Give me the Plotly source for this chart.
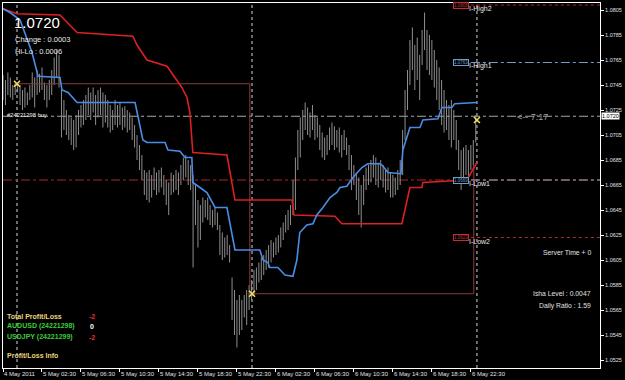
import plotly.graph_objects as go

# ---------------- data ----------------
# 15-minute bars, index 0 = 4 May 22:30
bar_high = [
    1.0753, 1.0749, 1.0755, 1.0751, 1.0745, 1.0747, 1.0746, 1.0745, 1.0741, 1.0743, 1.0739, 1.0745, 1.0755, 1.0751, 1.0757, 1.0754,
    1.0759, 1.0747, 1.0745, 1.0749, 1.0757, 1.0767, 1.0773, 1.0769, 1.0741, 1.0733, 1.0725, 1.0721, 1.0719, 1.0717, 1.0721, 1.0725,
    1.0729, 1.0733, 1.0737, 1.0743, 1.0739, 1.0743, 1.0737, 1.0741, 1.0743, 1.0739, 1.0737, 1.0733, 1.0729, 1.0725, 1.0733, 1.0729,
    1.0731, 1.0727, 1.0728, 1.0725, 1.0723, 1.0719, 1.0713, 1.0705, 1.0697, 1.0689, 1.0677, 1.0675, 1.0677, 1.0673, 1.0679, 1.0675,
    1.0677, 1.0679, 1.0673, 1.0669, 1.0667, 1.0675, 1.0673, 1.0677, 1.0675, 1.0681, 1.0687, 1.0689, 1.0685, 1.0681, 1.0673, 1.0665,
    1.0653, 1.0649, 1.0655, 1.0653, 1.0655, 1.0649, 1.0645, 1.0647, 1.0643, 1.0633, 1.0627, 1.0623, 1.0625, 1.0617, 1.0591, 1.0581,
    1.0573, 1.0577, 1.0573, 1.0577, 1.0581, 1.0585, 1.0589, 1.0597, 1.0599, 1.0603, 1.0607, 1.0609, 1.0613, 1.0617, 1.0621, 1.0619,
    1.0623, 1.0625, 1.0631, 1.0635, 1.0641, 1.0645, 1.0649, 1.0669, 1.0687, 1.0709, 1.0719, 1.0725, 1.0731, 1.0727, 1.0723, 1.0729,
    1.0721, 1.0719, 1.0713, 1.0707, 1.0703, 1.0705, 1.0711, 1.0715, 1.0712, 1.0709, 1.0711, 1.0705, 1.0709, 1.0703, 1.0697, 1.0689,
    1.0681, 1.0675, 1.0671, 1.0665, 1.0673, 1.0679, 1.0681, 1.0685, 1.0689, 1.0687, 1.0683, 1.0685, 1.0681, 1.0677, 1.0679, 1.0675,
    1.0673, 1.0671, 1.0677, 1.0685, 1.0709, 1.0741, 1.0757, 1.0781, 1.0791, 1.0777, 1.0783, 1.0769, 1.0789, 1.0803, 1.0789, 1.0785,
    1.0781, 1.0773, 1.0765, 1.0759, 1.0749, 1.0741, 1.0733, 1.0729, 1.0733, 1.0725, 1.0717, 1.0701, 1.0693, 1.0695, 1.0697, 1.0693,
    1.0697, 1.0701, 1.0721,
]
bar_low = [
    1.0733, 1.0729, 1.0737, 1.0735, 1.0733, 1.0737, 1.0739, 1.0729, 1.0725, 1.0727, 1.0729, 1.0733, 1.0735, 1.0727, 1.0737, 1.0739,
    1.0741, 1.0733, 1.0727, 1.0733, 1.0737, 1.0745, 1.0751, 1.0743, 1.0703, 1.0709, 1.0705, 1.0701, 1.0697, 1.0693, 1.0695, 1.0705,
    1.0711, 1.0713, 1.0717, 1.0721, 1.0717, 1.0723, 1.0713, 1.0719, 1.0721, 1.0711, 1.0715, 1.0711, 1.0707, 1.0709, 1.0713, 1.0711,
    1.0713, 1.0709, 1.0711, 1.0707, 1.0709, 1.0701, 1.0695, 1.0685, 1.0677, 1.0669, 1.0657, 1.0653, 1.0651, 1.0655, 1.0661, 1.0657,
    1.0659, 1.0663, 1.0657, 1.0649, 1.0641, 1.0657, 1.0659, 1.0661, 1.0657, 1.0665, 1.0669, 1.0671, 1.0665, 1.0661, 1.0599, 1.0633,
    1.0615, 1.0621, 1.0635, 1.0639, 1.0637, 1.0633, 1.0631, 1.0633, 1.0629, 1.0609, 1.0605, 1.0607, 1.0609, 1.0603, 1.0557, 1.0545,
    1.0535, 1.0545, 1.0549, 1.0559, 1.0553, 1.0565, 1.0573, 1.0577, 1.0581, 1.0587, 1.0589, 1.0593, 1.0597, 1.0599, 1.0603, 1.0607,
    1.0609, 1.0611, 1.0615, 1.0621, 1.0627, 1.0629, 1.0633, 1.0641, 1.0645, 1.0677, 1.0687, 1.0701, 1.0709, 1.0705, 1.0703, 1.0709,
    1.0701, 1.0703, 1.0693, 1.0687, 1.0685, 1.0689, 1.0693, 1.0697, 1.0693, 1.0695, 1.0691, 1.0687, 1.0693, 1.0689, 1.0677, 1.0661,
    1.0665, 1.0653, 1.0641, 1.0631, 1.0649, 1.0661, 1.0665, 1.0667, 1.0671, 1.0665, 1.0663, 1.0669, 1.0663, 1.0659, 1.0661, 1.0655,
    1.0655, 1.0657, 1.0661, 1.0665, 1.0673, 1.0701, 1.0725, 1.0745, 1.0757, 1.0741, 1.0749, 1.0733, 1.0761, 1.0773, 1.0757, 1.0753,
    1.0749, 1.0743, 1.0733, 1.0725, 1.0713, 1.0707, 1.0709, 1.0701, 1.0695, 1.0701, 1.0693, 1.0677, 1.0661, 1.0669, 1.0673, 1.0671,
    1.0677, 1.0681, 1.0699,
]

# stepped indicator lines (bar index, price) at their vertices
red_x = [0, 5.7, 23.4, 30.4, 53.3, 55.0, 59.1, 67.3, 73.4, 75.5, 76.7, 77.9, 91.9, 95.2, 118.6, 119.4,
         136.2, 139.1, 163.7, 167.0, 171.9, 172.3, 190.4, 192.8, 194.5]
red_y = [1.0806, 1.0802, 1.0801, 1.0787, 1.0784, 1.0777, 1.0765, 1.0760, 1.0743, 1.0735, 1.0723, 1.0691,
         1.0689, 1.0653, 1.0653, 1.0641, 1.0640, 1.0634, 1.0634, 1.0663, 1.0663, 1.0667, 1.0669, 1.0677, 1.0683]
blue_x = [0, 2.9, 7.0, 8.2, 11.9, 14.4, 23.4, 24.2, 26.7, 30.4, 54.2, 57.4, 59.1, 66.5, 67.7, 72.6, 74.7,
          77.5, 77.9, 80.8, 83.7, 87.0, 91.9, 95.2, 105.4, 106.7, 108.7, 109.5, 112.8, 115.7, 119.0, 120.6,
          121.8, 124.7, 127.2, 128.8, 131.3, 134.2, 137.0, 138.3, 141.1, 143.6, 147.3, 149.7, 154.7, 155.5,
          158.0, 163.3, 164.1, 167.0, 171.1, 172.3, 178.5, 180.1, 184.2, 185.4, 194.5]
blue_y = [1.0806, 1.0803, 1.0797, 1.0791, 1.0771, 1.0752, 1.0751, 1.0741, 1.0739, 1.0731, 1.0731, 1.0701,
          1.0699, 1.0699, 1.0693, 1.0692, 1.0687, 1.0687, 1.0667, 1.0663, 1.0659, 1.0647, 1.0647, 1.0613,
          1.0613, 1.0605, 1.0603, 1.0599, 1.0599, 1.0593, 1.0592, 1.0605, 1.0627, 1.0633, 1.0634, 1.0641,
          1.0647, 1.0655, 1.0659, 1.0663, 1.0664, 1.0671, 1.0679, 1.0682, 1.0682, 1.0681, 1.0675, 1.0674,
          1.0693, 1.0711, 1.0711, 1.0717, 1.0718, 1.0727, 1.0727, 1.0730, 1.0731]

# trade path (entry -> close -> current)
trade_x = [5.74, 101.3, 101.3, 193.2, 193.2]
trade_y = [1.0746, 1.0746, 1.0578, 1.0578, 1.0681]
mark_x = [5.74, 102.2, 194.5]
mark_y = [1.0746, 1.0578, 1.0717]
vline_x = [5.74, 102.2, 194.5]

price_now = 1.0720
level_red = 1.0669
high1, low1, low2, high2 = 1.0763, 1.0669, 1.0623, 1.0809

x_tick_idx = [0, 16, 32, 48, 64, 80, 96, 112, 128, 144, 160, 176, 192]
x_labels = ["4 May 2011", "5 May 02:30", "5 May 06:30", "5 May 10:30", "5 May 14:30", "5 May 18:30",
            "5 May 22:30", "6 May 02:30", "6 May 06:30", "6 May 10:30", "6 May 14:30", "6 May 18:30",
            "6 May 22:30"]
y_ticks = [1.0525, 1.0545, 1.0565, 1.0585, 1.0605, 1.0625, 1.0645, 1.0665, 1.0685, 1.0705, 1.0725,
           1.0745, 1.0765, 1.0785, 1.0805]
y_labels = ["%.4f" % v for v in y_ticks]

# ---------------- figure ----------------
W, H = 625, 380
L, R, T, B = 3, 25, 3, 12
FONT = "Liberation Sans, Arial, sans-serif"

def px(x):
    return (x - L) / (W - L - R)

def py(y):
    return (H - B - y) / (H - T - B)

fig = go.Figure()

# bars
bx, by = [], []
for i, (h, l) in enumerate(zip(bar_high, bar_low)):
    bx += [i, i, None]
    by += [l, h, None]
fig.add_trace(go.Scatter(x=bx, y=by, mode="lines", line=dict(color="#8e8e8e", width=1),
                         hoverinfo="skip", showlegend=False))

# trade path
fig.add_trace(go.Scatter(x=trade_x, y=trade_y, mode="lines", line=dict(color="#8a3c3c", width=1),
                         showlegend=False))
# indicators
fig.add_trace(go.Scatter(x=red_x, y=red_y, mode="lines", line=dict(color="#dd2020", width=1.6),
                         showlegend=False))
fig.add_trace(go.Scatter(x=blue_x, y=blue_y, mode="lines", line=dict(color="#4a8de6", width=1.6),
                         showlegend=False))
# markers
fig.add_trace(go.Scatter(x=mark_x, y=mark_y, mode="markers",
                         marker=dict(symbol="x-thin", size=6, line=dict(color="#f0e060", width=1.5)),
                         showlegend=False))

shapes = []
for vx in vline_x:
    shapes.append(dict(type="line", xref="x", yref="paper", x0=vx, x1=vx, y0=0, y1=1,
                       line=dict(color="#d8d8d8", width=1, dash="dot"), layer="below"))
shapes.append(dict(type="line", xref="paper", yref="y", x0=0, x1=1, y0=price_now, y1=price_now,
                   line=dict(color="#a8a8a8", width=1, dash="dashdot"), layer="below"))
shapes.append(dict(type="line", xref="paper", yref="y", x0=0, x1=1, y0=level_red, y1=level_red,
                   line=dict(color="#a82828", width=1, dash="dashdot"), layer="below"))
shapes.append(dict(type="line", xref="x", yref="y", x0=192, x1=245, y0=high1, y1=high1,
                   line=dict(color="#6f9cc4", width=1, dash="dashdot")))
shapes.append(dict(type="line", xref="x", yref="y", x0=192, x1=245, y0=low1, y1=low1,
                   line=dict(color="#8fa4bb", width=1, dash="dashdot")))
shapes.append(dict(type="line", xref="x", yref="y", x0=192, x1=245, y0=low2, y1=low2,
                   line=dict(color="#b02a2a", width=1, dash="dot")))
shapes.append(dict(type="line", xref="x", yref="y", x0=192, x1=245, y0=high2, y1=high2,
                   line=dict(color="#b02a2a", width=1, dash="dot")))

ann = []

def text(x, y, s, size, color="#e8e8e8", anchor="left", bold=False):
    ann.append(dict(xref="paper", yref="paper", x=px(x), y=py(y), text=("<b>%s</b>" % s) if bold else s,
                    showarrow=False, xanchor=anchor, yanchor="middle",
                    font=dict(family=FONT, size=size, color=color)))

text(12, 22, "1.0720", 15, "#ffffff")
text(13, 39, "Change : 0.0003", 7.5)
text(13, 51, "Hi-Lo : 0.0006", 7.5)
text(5, 115, "#24221298 buy", 5.8)
text(515, 117, "<-- 7:17", 9, "#a0a0a0")
text(593, 252, "Server Time + 0", 6.8, "#e0e0e0", "right")
text(593, 293, "Isha Level : 0.0047", 6.8, "#e0e0e0", "right")
text(593, 306, "Daily Ratio : 1.59", 6.8, "#e0e0e0", "right")
text(5, 316, "Total Profit/Loss", 7, "#ecd67c", bold=True)
text(87, 316, "-2", 7, "#e03030", bold=True)
text(5, 326, "AUDUSD (24221298)", 7, "#3ccc3c", bold=True)
text(88, 326, "0", 7, "#ffffff", bold=True)
text(5, 337, "USDJPY (24221299)", 7, "#3ccc3c", bold=True)
text(87, 337, "-2", 7, "#e03030", bold=True)
text(5, 355, "Profit/Loss Info", 7, "#ecd67c", bold=True)

# level names & price boxes
for name, lv, boxc in [("I-High2", high2, "#c03030"), ("I-High1", high1, "#6f9cc4"),
                       ("I-Low1", low1, "#6f9cc4"), ("I-Low2", low2, "#c03030")]:
    ann.append(dict(xref="x", yref="y", x=190.4, y=lv - 0.0003, text=name, showarrow=False,
                    xanchor="left", yanchor="middle", font=dict(family=FONT, size=7, color="#e8e8e8")))
    ann.append(dict(xref="x", yref="y", x=187.9, y=lv, text="%.4f" % lv, showarrow=False,
                    xanchor="center", yanchor="middle", bgcolor="#000000", bordercolor=boxc,
                    borderwidth=1, borderpad=0, font=dict(family=FONT, size=4.5, color=boxc)))

# current price box on axis
ann.append(dict(xref="paper", yref="y", x=px(601), y=price_now, text="1.0720", showarrow=False,
                xanchor="left", yanchor="middle", bgcolor="#ffffff", borderpad=0,
                font=dict(family=FONT, size=5.5, color="#000000")))

# x tick labels (left-aligned like MT4)
for xi, lab in zip(x_tick_idx, x_labels):
    ann.append(dict(xref="x", yref="paper", x=xi, y=py(374), text=lab, showarrow=False,
                    xanchor="left", xshift=-1, yanchor="middle",
                    font=dict(family=FONT, size=6, color="#e0e0e0")))

fig.update_layout(
    width=W, height=H, margin=dict(l=L, r=R, t=T, b=B),
    paper_bgcolor="#000000", plot_bgcolor="#000000",
    showlegend=False, shapes=shapes, annotations=ann,
    xaxis=dict(range=[0, 245], showgrid=False, zeroline=False, showline=True, mirror=True,
               linecolor="#ffffff", linewidth=1, ticks="outside", ticklen=3, tickcolor="#ffffff",
               tickvals=x_tick_idx, showticklabels=False, fixedrange=True),
    yaxis=dict(range=[1.05186, 1.08106], side="right", showgrid=False, zeroline=False, showline=True,
               mirror=True, linecolor="#ffffff", linewidth=1, ticks="outside", ticklen=3,
               tickcolor="#ffffff", tickvals=y_ticks, ticktext=y_labels,
               tickfont=dict(family=FONT, size=5.5, color="#e0e0e0"), fixedrange=True),
)

fig.write_html("out.html")
